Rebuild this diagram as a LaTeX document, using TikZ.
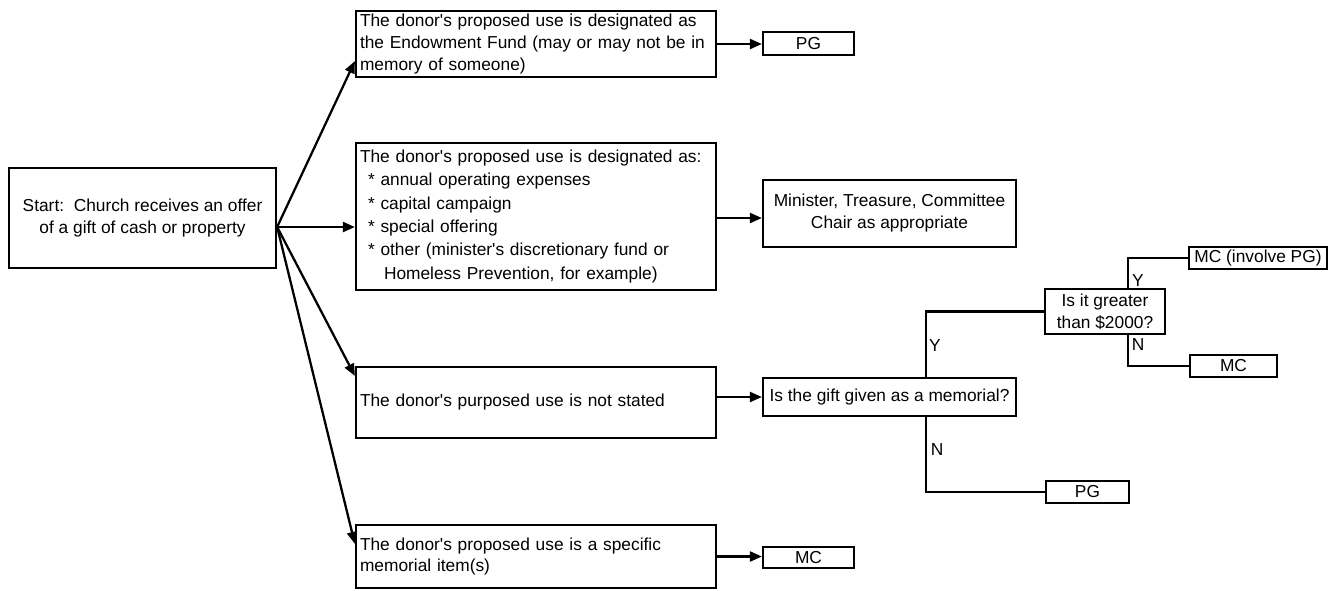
\documentclass[tikz,border=0pt]{standalone}
\usepackage{fontspec}
\setmainfont{Liberation Sans}
\usetikzlibrary{arrows.meta,calc}
\begin{document}
\begin{tikzpicture}[x=0.75pt,y=-0.75pt,
  box/.style={draw, line width=1.7pt, inner sep=0pt, font=\fontsize{13}{16.5}\selectfont},
  tbox/.style={box, inner xsep=3pt, align=left},
  conn/.style={line width=1.7pt},
  arr/.style={conn, -{Triangle[length=9pt,width=7.5pt]}},
  lbl/.style={inner sep=0pt, font=\fontsize{13}{16.5}\selectfont}]
\useasboundingbox (0,0) rectangle (1333,590);

% left column
\node[box, align=center, minimum width=200.25pt, minimum height=75pt] (start) at (142.5,218)
  {Start:\ \ Church receives an offer\\of a gift of cash or property};

\node[tbox, minimum width=270pt, text width=264pt, minimum height=49.5pt] (A) at (536,44)
  {The donor\textquotesingle s proposed use is designated as\\the Endowment Fund (may or may not be in\\memory of someone)};
\node[tbox, font=\fontsize{13}{17.5}\selectfont, minimum width=270pt, text width=264pt, minimum height=110.25pt] (B) at (536,216.5)
  {The donor\textquotesingle s proposed use is designated as:\\
   \hspace*{6pt}* annual operating expenses\\
   \hspace*{6pt}* capital campaign\\
   \hspace*{6pt}* special offering\\
   \hspace*{6pt}* other (minister\textquotesingle s discretionary fund or\\
   \hspace*{18pt}Homeless Prevention, for example)};
\node[tbox, minimum width=270pt, text width=264pt, minimum height=53.25pt] (C) at (536,402.5)
  {The donor\textquotesingle s purposed use is not stated};
\node[tbox, minimum width=270pt, text width=264pt, minimum height=47.25pt] (D) at (536,556.5)
  {The donor\textquotesingle s proposed use is a specific\\memorial item(s)};

% outcomes
\node[box, minimum width=68.25pt, minimum height=17.25pt] (pg1) at (808.5,43.5) {PG};
\node[box, align=center, minimum width=189.75pt, minimum height=50.25pt] (min) at (889.5,213.5)
  {Minister, Treasure, Committee\\Chair as appropriate};
\node[box, minimum width=189.75pt, minimum height=28.5pt] (mem) at (889.5,397)
  {Is the gift given as a memorial?};
\node[box, minimum width=68.25pt, minimum height=15.75pt] (mc1) at (808.5,557.5) {MC};
\node[box, align=center, minimum width=90pt, minimum height=33.75pt] (gt) at (1105,311.5)
  {Is it greater\\than \$2000?};
\node[box, minimum width=103.5pt, minimum height=16.5pt] (mcpg) at (1258,258) {MC (involve PG)};
\node[box, minimum width=65.25pt, minimum height=16.5pt] (mc2) at (1233.5,366) {MC};
\node[box, minimum width=62.25pt, minimum height=16.5pt] (pg2) at (1087.5,492) {PG};

% fan of arrows from start
\coordinate (s) at ($(start.east)+(0,9)$);
\draw[arr] (s) -- ($(A.south west)+(0,-17)$);
\draw[arr] (s) -- (s -| B.west);
\draw[arr] (s) -- ($(C.north west)+(0,10)$);
\draw[arr] (s) -- ($(D.north west)+(0,20)$);

% arrows to outcomes
\draw[arr] (A.east) -- (A.east -| pg1.west);
\draw[arr] ($(B.east)+(0,1.5)$) coordinate (b1) -- (b1 -| min.west);
\draw[arr] (C.east |- mem.west) -- (mem.west);
\draw[arr] (D.east) -- (D.east -| mc1.west);

% decision branches
\draw[conn] ($(mem.north west)+(164,0)$) |- (gt.west);
\draw[conn] ($(mem.south west)+(164,0)$) |- (pg2.west);
\draw[conn] ($(gt.north west)+(84,0)$) |- (mcpg.west);
\draw[conn] ($(gt.south west)+(84,0)$) |- (mc2.west);

\node[lbl] (ly1) at (935,346) {Y};
\node[lbl] (ln1) at (937,450) {N};
\node[lbl] (ly2) at (1138,281) {Y};
\node[lbl] (ln2) at (1138,345) {N};
\end{tikzpicture}
\end{document}
